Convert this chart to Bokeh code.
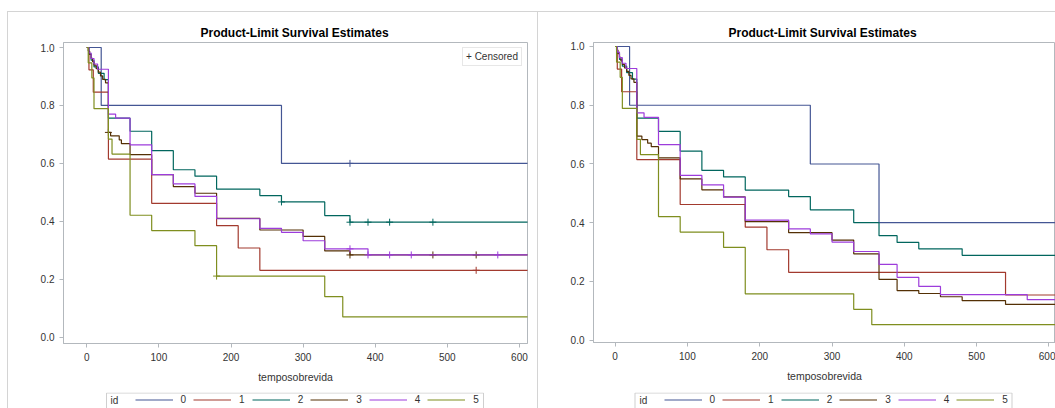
from bokeh.plotting import figure
from bokeh.layouts import row, column
from bokeh.models import (Legend, LegendItem, Range1d, FixedTicker, NumeralTickFormatter)
from bokeh.core.properties import value
from bokeh.embed import file_html
from bokeh.resources import INLINE

FONT = "Liberation Sans"
AXIS_GRAY = "#b3b8bd"
PANEL_GRAY = "#d4d4d4"
BOX_GRAY = "#cfcfcf"
TEXT_GRAY = "#333333"
END_T = 700  # steps are carried to the right edge

group_ids = ["0", "1", "2", "3", "4", "5"]
group_colors = ["#445694", "#A23A2E", "#01665E", "#543005", "#9D3CDB", "#7F8E1F"]

x_ticks = [0, 100, 200, 300, 400, 500, 600]
y_ticks = [0.0, 0.2, 0.4, 0.6, 0.8, 1.0]

# ---- estimates with censored observations (event times, survival after event, censor times)
cens_t0 = [20, 270]
cens_s0 = [0.800, 0.600]
cens_c0 = [365]

cens_t1 = [3, 9, 30, 90, 180, 210, 240]
cens_s1 = [0.923, 0.846, 0.615, 0.462, 0.385, 0.308, 0.231]
cens_c1 = [540]

cens_t2 = [3, 6, 10, 16, 24, 30, 60, 90, 120, 150, 180, 240, 270, 330, 365]
cens_s2 = [0.978, 0.956, 0.933, 0.911, 0.889, 0.756, 0.711, 0.644, 0.578, 0.556,
           0.511, 0.489, 0.467, 0.420, 0.397]
cens_c2 = [270, 365, 390, 420, 480]

cens_t3 = [2, 4, 6, 8, 10, 13, 16, 19, 22, 26, 30, 33, 45, 48, 60, 90, 120, 150,
           180, 240, 300, 330, 365]
cens_s3 = [0.988, 0.976, 0.963, 0.951, 0.939, 0.927, 0.915, 0.902, 0.890, 0.878,
           0.707, 0.695, 0.681, 0.668, 0.630, 0.561, 0.520, 0.497, 0.410, 0.370,
           0.348, 0.298, 0.284]
cens_c3 = [30, 365, 480, 540]

cens_t4 = [3, 6, 10, 15, 30, 40, 60, 90, 120, 150, 180, 240, 270, 300, 330, 390]
cens_s4 = [0.981, 0.962, 0.943, 0.925, 0.770, 0.756, 0.664, 0.561, 0.529, 0.486,
           0.409, 0.376, 0.362, 0.333, 0.305, 0.284]
cens_c4 = [365, 390, 420, 450, 570]

cens_t5 = [2, 7, 10, 30, 35, 60, 90, 150, 180, 330, 355]
cens_s5 = [0.947, 0.895, 0.789, 0.684, 0.632, 0.421, 0.368, 0.316, 0.211, 0.140, 0.070]
cens_c5 = [180]

# ---- estimates with every time treated as an event
full_t0 = [20, 270, 365]
full_s0 = [0.800, 0.600, 0.400]

full_t1 = [3, 9, 30, 90, 180, 210, 240, 540]
full_s1 = [0.923, 0.846, 0.615, 0.462, 0.385, 0.308, 0.231, 0.154]

full_t2 = [3, 6, 10, 16, 24, 30, 60, 90, 120, 150, 180, 240, 270, 330, 365, 390,
           420, 480]
full_s2 = [0.978, 0.956, 0.933, 0.911, 0.889, 0.756, 0.711, 0.644, 0.578, 0.556,
           0.511, 0.489, 0.444, 0.400, 0.356, 0.333, 0.311, 0.289]

full_t3 = [2, 4, 6, 8, 10, 13, 16, 19, 22, 26, 30, 37, 45, 50, 60, 90, 120, 150,
           180, 240, 300, 330, 365, 390, 420, 450, 480, 540]
full_s3 = [0.988, 0.976, 0.963, 0.951, 0.939, 0.927, 0.915, 0.902, 0.890, 0.878,
           0.695, 0.683, 0.671, 0.659, 0.621, 0.549, 0.512, 0.488, 0.404, 0.366,
           0.341, 0.294, 0.207, 0.169, 0.159, 0.148, 0.135, 0.122]

full_t4 = [3, 6, 10, 15, 30, 40, 60, 90, 120, 150, 180, 240, 270, 300, 330, 365,
           390, 420, 450, 570]
full_s4 = [0.981, 0.962, 0.943, 0.925, 0.774, 0.759, 0.666, 0.561, 0.529, 0.487,
           0.409, 0.379, 0.362, 0.334, 0.302, 0.258, 0.214, 0.183, 0.155, 0.138]

full_t5 = [2, 7, 10, 30, 35, 60, 90, 150, 180, 330, 355]
full_s5 = [0.947, 0.895, 0.789, 0.684, 0.632, 0.421, 0.368, 0.316, 0.158, 0.105, 0.053]

cens_groups = [(cens_t0, cens_s0, cens_c0), (cens_t1, cens_s1, cens_c1),
               (cens_t2, cens_s2, cens_c2), (cens_t3, cens_s3, cens_c3),
               (cens_t4, cens_s4, cens_c4), (cens_t5, cens_s5, cens_c5)]
full_groups = [(full_t0, full_s0, []), (full_t1, full_s1, []), (full_t2, full_s2, []),
               (full_t3, full_s3, []), (full_t4, full_s4, []), (full_t5, full_s5, [])]

MAIN_H = 392   # plot part of each panel
STRIP_H = 16   # legend strip under each plot


def surv_at(times, surv, t):
    v = 1.0
    for ti, si in zip(times, surv):
        if ti <= t:
            v = si
    return v


def panel_lines(segments):
    """Thin light-gray panel edges painted behind the (transparent) canvas."""
    grad = "linear-gradient(%s,%s)" % (PANEL_GRAY, PANEL_GRAY)
    return {
        "background-image": ", ".join([grad] * len(segments)),
        "background-size": ", ".join("%dpx %dpx" % (w, h) for (_, _, w, h) in segments),
        "background-position": ", ".join("%dpx %dpx" % (x, y) for (x, y, _, _) in segments),
        "background-repeat": "no-repeat",
        "background-color": "white",
    }


def make_panel(groups, frame, borders, xr, yr, title_offset, censor_legend, edges):
    p = figure(frame_width=frame[0], frame_height=frame[1],
               min_border_left=borders[0], min_border_right=borders[1],
               min_border_top=borders[2], min_border_bottom=borders[3],
               x_range=Range1d(*xr), y_range=Range1d(*yr),
               output_backend="svg", toolbar_location=None,
               background_fill_color="white", border_fill_color=None,
               styles=panel_lines(edges))
    p.xgrid.visible = False
    p.ygrid.visible = False
    p.outline_line_color = AXIS_GRAY

    p.title.text = "Product-Limit Survival Estimates"
    p.title.text_font = FONT
    p.title.text_font_size = "12px"
    p.title.text_font_style = "bold"
    p.title.text_color = "black"
    p.title.align = "left"
    p.title.offset = title_offset
    p.title.standoff = 6

    p.xaxis.ticker = FixedTicker(ticks=x_ticks)
    p.yaxis.ticker = FixedTicker(ticks=y_ticks)
    p.xaxis.formatter = NumeralTickFormatter(format="0")
    p.yaxis.formatter = NumeralTickFormatter(format="0.0")
    for ax in (p.xaxis[0], p.yaxis[0]):
        ax.axis_line_color = AXIS_GRAY
        ax.major_tick_line_color = AXIS_GRAY
        ax.minor_tick_line_color = None
        ax.major_tick_out = 4
        ax.major_tick_in = 0
        ax.major_label_text_font = FONT
        ax.major_label_text_font_size = "10px"
        ax.major_label_text_color = TEXT_GRAY
        ax.major_label_standoff = 5
    p.xaxis.axis_label = "temposobrevida"
    p.xaxis.axis_label_text_font = FONT
    p.xaxis.axis_label_text_font_size = "10.5px"
    p.xaxis.axis_label_text_font_style = "normal"
    p.xaxis.axis_label_text_color = TEXT_GRAY
    p.xaxis.axis_label_standoff = 7

    for col, (times, surv, cens) in zip(group_colors, groups):
        xs = [0] + list(times) + [END_T]
        ys = [1.0] + list(surv) + [surv[-1]]
        p.step(xs, ys, mode="after", line_color=col, line_width=1.2)
        if cens:
            cy = [surv_at(times, surv, c) for c in cens]
            p.scatter(cens, cy, marker="cross", size=7, line_color=col, line_width=1)

    if censor_legend:
        hidden = p.scatter([-1000], [-1000], marker="cross", size=1, alpha=0)
        cl = Legend(items=[LegendItem(label="+ Censored", renderers=[hidden])],
                    location="top_right", margin=5, padding=3,
                    glyph_width=0, glyph_height=8, label_height=8, label_standoff=0,
                    border_line_color=BOX_GRAY, background_fill_color="white",
                    label_text_font=FONT, label_text_font_size="10px",
                    label_text_color=TEXT_GRAY)
        p.add_layout(cl, "center")
    return p


def make_strip(width, box_l, box_r, id_x, glyph_x, edges):
    """Group legend ("id" + one line sample per group) drawn under a plot."""
    s = figure(frame_width=width, frame_height=STRIP_H, min_border=0,
               x_range=Range1d(0, width), y_range=Range1d(0, STRIP_H),
               x_axis_type=None, y_axis_type=None,
               output_backend="svg", toolbar_location=None,
               background_fill_color=None, border_fill_color=None,
               outline_line_color=None, styles=panel_lines(edges))
    s.quad(left=[box_l], right=[box_r], top=[STRIP_H - 0.5], bottom=[-20],
           fill_color=None, line_color=BOX_GRAY, line_width=1)
    s.text(x=[id_x], y=[STRIP_H - 7.5], text=["id"], text_font=value(FONT),
           text_font_size="10px", text_baseline="middle", text_align="left",
           text_color=TEXT_GRAY)
    items = []
    for gid, col in zip(group_ids, group_colors):
        r = s.line([-50, -40], [-50, -50], line_color=col, line_width=1.2)
        items.append(LegendItem(label=gid, renderers=[r]))
    lg = Legend(items=items, orientation="horizontal", location=(glyph_x, 2),
                glyph_width=38, glyph_height=13, label_height=13, label_width=5,
                label_standoff=8, spacing=7, padding=0, margin=0,
                border_line_color=None, background_fill_alpha=0,
                label_text_font=FONT, label_text_font_size="10px",
                label_text_color=TEXT_GRAY)
    s.add_layout(lg, "center")
    return s


left = make_panel(cens_groups, (464, 301), (63, 3, 41, MAIN_H - 342),
                  (-32.3, 611.2), (-0.0217, 1.0173), 137, True,
                  [(7, 11, 1, 400), (7, 11, 523, 1)])
right = make_panel(full_groups, (462, 300), (63, 0, 42, MAIN_H - 342),
                   (-29.9, 609.1), (-0.0078, 1.0136), 135, False,
                   [(7, 11, 1, 400), (0, 11, 525, 1)])
left_strip = make_strip(530, 106, 483, 110, 134.5, [(7, 0, 1, 40)])
right_strip = make_strip(525, 104.5, 481.5, 109, 133.5, [(7, 0, 1, 40)])

layout = column(row(left, right), row(left_strip, right_strip))
open("out.html", "w").write(file_html(layout, INLINE))
